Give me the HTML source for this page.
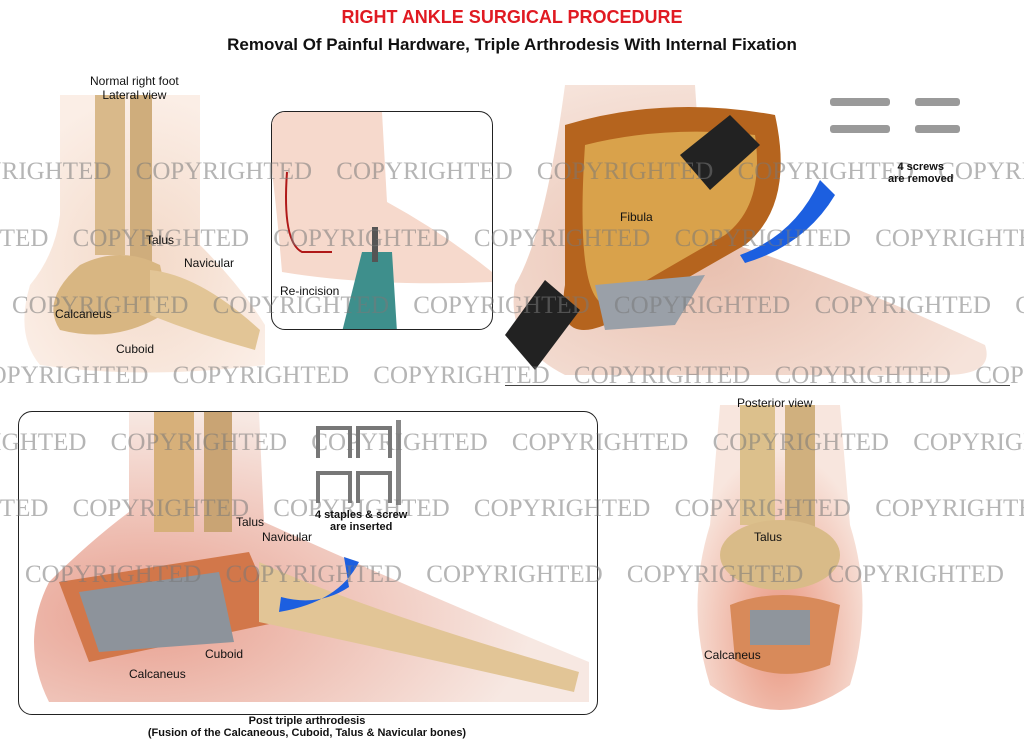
<!DOCTYPE html>
<html><head><meta charset="utf-8"><style>
html,body{margin:0;padding:0;background:#fff;}
body{width:1024px;height:749px;position:relative;overflow:hidden;font-family:"Liberation Sans",sans-serif;}
.a{position:absolute;}
.wm{position:absolute;font-family:"Liberation Serif",serif;font-size:25px;color:rgba(120,120,120,0.55);white-space:nowrap;word-spacing:18px;z-index:5;}
.lbl{position:absolute;font-size:12px;color:#111;z-index:6;white-space:nowrap;}
.b{font-weight:bold;}
</style></head><body>

<div class="a b" style="left:0;width:1024px;top:7px;text-align:center;color:#e01a22;font-size:18px;">RIGHT ANKLE SURGICAL PROCEDURE</div>
<div class="a b" style="left:0;width:1024px;top:35px;text-align:center;color:#111;font-size:17px;">Removal Of Painful Hardware, Triple Arthrodesis With Internal Fixation</div>

<svg class="a" style="left:0;top:95px" width="270" height="285">
<defs><radialGradient id="sk" cx="50%" cy="60%" r="60%"><stop offset="0" stop-color="#f3d9c8"/><stop offset="1" stop-color="#fbeee6"/></radialGradient></defs>
<path d="M60 0 L200 0 L200 150 Q240 190 265 230 L265 270 Q140 285 40 270 Q15 240 30 190 Q55 160 60 120 Z" fill="url(#sk)"/>
<rect x="95" y="0" width="30" height="160" fill="#d9b98a"/>
<rect x="130" y="0" width="22" height="170" fill="#cfad7c"/>
<path d="M80 170 Q120 150 160 170 L170 215 Q120 250 60 235 Q40 205 80 170Z" fill="#d8b682"/>
<path d="M150 175 Q200 180 260 235 L255 255 Q200 240 150 220Z" fill="#e2c596"/>
</svg>
<div class="lbl" style="left:90px;top:74px;text-align:center;">Normal right foot<br>Lateral view</div>
<div class="lbl" style="left:146px;top:233px;">Talus</div>
<div class="lbl" style="left:184px;top:256px;">Navicular</div>
<div class="lbl" style="left:55px;top:307px;">Calcaneus</div>
<div class="lbl" style="left:116px;top:342px;">Cuboid</div>

<div class="a" style="left:271px;top:111px;width:220px;height:217px;border:1.5px solid #222;border-radius:14px;overflow:hidden;background:#fff;">
<svg width="220" height="217"><path d="M0 0 L110 0 L115 90 Q170 120 220 160 L220 170 Q100 175 10 160 Q5 100 0 60Z" fill="#f6d9cc"/>
<path d="M15 60 Q10 130 30 140 L60 140" stroke="#b01818" stroke-width="2" fill="none"/>
<path d="M90 140 L120 140 L125 220 L70 220 Z" fill="#3e8f8c"/><rect x="100" y="115" width="6" height="35" fill="#555"/></svg>
</div>
<div class="lbl" style="left:280px;top:284px;">Re-incision</div>

<svg class="a" style="left:505px;top:85px" width="500" height="300">
<defs><radialGradient id="sk2" cx="40%" cy="60%" r="65%"><stop offset="0" stop-color="#e8bfae"/><stop offset="1" stop-color="#f6e3da"/></radialGradient></defs>
<path d="M60 0 L190 0 L200 150 Q330 190 480 260 Q490 290 440 290 L60 290 Q0 260 10 200 Q40 150 60 0Z" fill="url(#sk2)"/>
<path d="M60 40 Q160 10 270 30 Q290 120 240 160 Q170 200 100 240 Q50 260 60 200 Z" fill="#b5641e"/>
<path d="M80 60 Q160 40 250 50 Q260 120 220 150 Q150 190 100 220 Q70 210 80 60Z" fill="#d9a24b"/>
<path d="M90 200 L200 190 L170 240 L100 245Z" fill="#9aa0a8"/>
<path d="M175 70 L225 30 L255 60 L205 105Z" fill="#222"/>
<path d="M0 250 L40 195 L75 225 L30 285Z" fill="#222"/>
<path d="M235 170 Q290 150 315 95 L330 110 Q300 160 240 178Z" fill="#1c5fe0"/>
</svg>
<svg class="a" style="left:830px;top:95px" width="130" height="50">
<g fill="#9a9a9a"><rect x="0" y="3" width="60" height="8" rx="3"/><rect x="85" y="3" width="45" height="8" rx="3"/><rect x="0" y="30" width="60" height="8" rx="3"/><rect x="85" y="30" width="45" height="8" rx="3"/></g></svg>
<div class="lbl b" style="left:888px;top:161px;text-align:center;font-size:11px;">4 screws<br>are removed</div>
<div class="lbl" style="left:620px;top:210px;">Fibula</div>
<div class="a" style="left:505px;top:385px;width:505px;height:1px;background:#444;"></div>

<div class="a" style="left:18px;top:411px;width:578px;height:302px;border:1.5px solid #222;border-radius:14px;overflow:hidden;background:#fff;">
<svg width="578" height="302">
<defs><radialGradient id="sk3" cx="20%" cy="70%" r="70%"><stop offset="0" stop-color="#e8a090"/><stop offset="1" stop-color="#f7e8e2"/></radialGradient></defs>
<path d="M110 0 L240 0 L245 110 Q400 180 570 250 L570 290 L30 290 Q0 230 30 170 Q70 130 110 100Z" fill="url(#sk3)"/>
<rect x="135" y="0" width="40" height="120" fill="#d7b07a"/><rect x="185" y="0" width="28" height="120" fill="#c9a474"/>
<path d="M40 170 L230 140 L260 210 L70 250Z" fill="#d2774a"/>
<path d="M60 180 L200 160 L215 230 L80 240Z" fill="#8d939b"/>
<path d="M240 150 Q350 200 560 260 L555 280 Q380 240 240 210Z" fill="#e2c596"/>
<path d="M260 200 Q320 190 340 150 L325 145 L330 175 Q300 195 262 185Z" fill="#1c5fe0"/>
</svg>
</div>
<svg class="a" style="left:310px;top:418px" width="100" height="90"><g stroke="#777" stroke-width="4" fill="none"><path d="M8 40 L8 10 L40 10 L40 40"/><path d="M48 40 L48 10 L80 10 L80 40"/><path d="M8 85 L8 55 L40 55 L40 85"/><path d="M48 85 L48 55 L80 55 L80 85"/></g><rect x="86" y="2" width="5" height="85" fill="#888"/></svg>
<div class="lbl b" style="left:315px;top:509px;text-align:center;font-size:11px;">4 staples &amp; screw<br>are inserted</div>
<div class="lbl" style="left:236px;top:515px;">Talus</div>
<div class="lbl" style="left:262px;top:530px;">Navicular</div>
<div class="lbl" style="left:205px;top:647px;">Cuboid</div>
<div class="lbl" style="left:129px;top:667px;">Calcaneus</div>
<div class="lbl b" style="left:18px;width:578px;top:715px;text-align:center;font-size:11px;">Post triple arthrodesis<br>(Fusion of the Calcaneous, Cuboid, Talus &amp; Navicular bones)</div>

<div class="lbl" style="left:737px;top:396px;">Posterior view</div>
<svg class="a" style="left:680px;top:405px" width="200" height="320">
<defs><radialGradient id="sk4" cx="50%" cy="75%" r="60%"><stop offset="0" stop-color="#e9957e"/><stop offset="1" stop-color="#f8e6de"/></radialGradient></defs>
<path d="M40 0 L160 0 L170 120 Q195 200 170 280 Q100 330 30 280 Q5 200 30 120Z" fill="url(#sk4)"/>
<rect x="60" y="0" width="35" height="120" fill="#dcc08c"/><rect x="105" y="0" width="30" height="130" fill="#d0b07e"/>
<ellipse cx="100" cy="150" rx="60" ry="35" fill="#d9bb88"/>
<path d="M50 200 Q100 180 160 200 L150 260 Q100 280 55 255Z" fill="#d88a5a"/>
<rect x="70" y="205" width="60" height="35" fill="#8f959c"/>
</svg>
<div class="lbl" style="left:754px;top:530px;">Talus</div>
<div class="lbl" style="left:704px;top:648px;">Calcaneus</div>

<div class="wm" style="left:-65px;top:158px;">COPYRIGHTED COPYRIGHTED COPYRIGHTED COPYRIGHTED COPYRIGHTED COPYRIGHTED</div>
<div class="wm" style="left:-128px;top:225px;">COPYRIGHTED COPYRIGHTED COPYRIGHTED COPYRIGHTED COPYRIGHTED COPYRIGHTED</div>
<div class="wm" style="left:12px;top:292px;">COPYRIGHTED COPYRIGHTED COPYRIGHTED COPYRIGHTED COPYRIGHTED COPYRIGHTED</div>
<div class="wm" style="left:-28px;top:362px;">COPYRIGHTED COPYRIGHTED COPYRIGHTED COPYRIGHTED COPYRIGHTED COPYRIGHTED</div>
<div class="wm" style="left:-90px;top:429px;">COPYRIGHTED COPYRIGHTED COPYRIGHTED COPYRIGHTED COPYRIGHTED COPYRIGHTED</div>
<div class="wm" style="left:-128px;top:495px;">COPYRIGHTED COPYRIGHTED COPYRIGHTED COPYRIGHTED COPYRIGHTED COPYRIGHTED</div>
<div class="wm" style="left:25px;top:561px;">COPYRIGHTED COPYRIGHTED COPYRIGHTED COPYRIGHTED COPYRIGHTED COPYRIGHTED</div>
</body></html>
